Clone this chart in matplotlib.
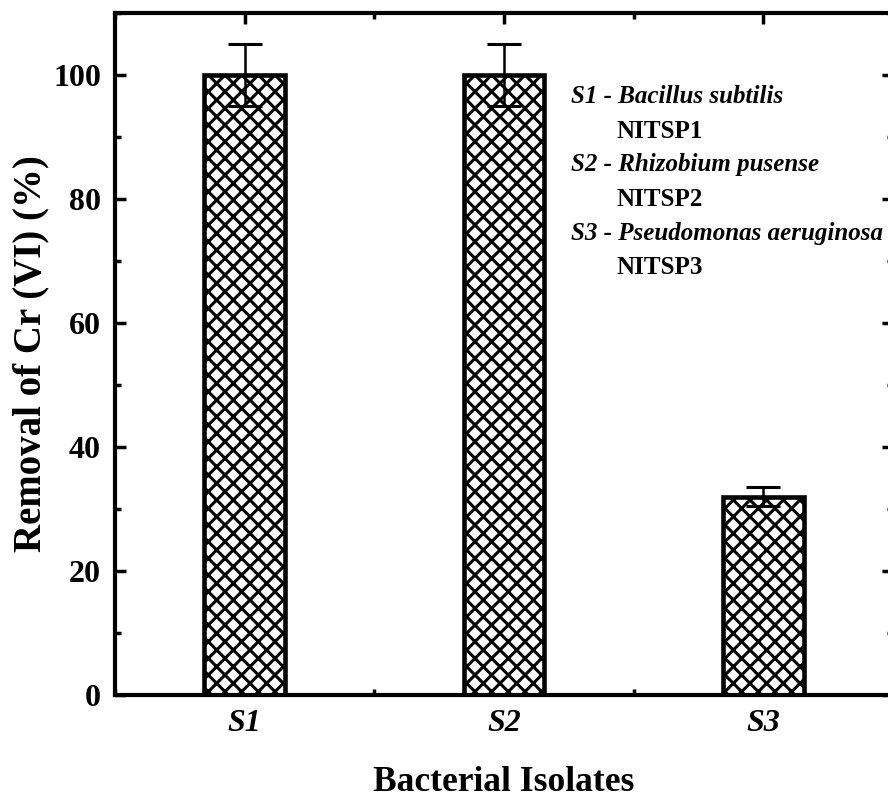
import numpy as np
import matplotlib
matplotlib.use("Agg")
import matplotlib.pyplot as plt
from matplotlib.ticker import MultipleLocator

plt.rcParams['font.family'] = ['Liberation Serif', 'DejaVu Serif']
plt.rcParams['hatch.linewidth'] = 2.2

# data:
# --------------------------
isolates = ['S1', 'S2', 'S3']
removal = [100.0, 100.0, 32.0]
removal_err = [5.0, 5.0, 1.5]
strain_names = ['Bacillus subtilis', 'Rhizobium pusense', 'Pseudomonas aeruginosa']
strain_codes = ['NITSP1', 'NITSP2', 'NITSP3']

fig = plt.figure(figsize=(8.88, 8.02), dpi=100)
ax = fig.add_axes([0.1295, 0.1334, 0.8761, 0.8504])

x = np.arange(1, len(isolates) + 1)
ax.bar(x, removal, width=0.31, color='white', edgecolor='black',
       linewidth=3.3, hatch='xx', zorder=2)
ax.errorbar(x, removal, yerr=removal_err, fmt='none', ecolor='black',
            elinewidth=1.8, capsize=12, capthick=2.2, zorder=3)

ax.set_xlim(0.5, 3.5)
ax.set_ylim(0, 110)
ax.set_xticks(x)
ax.set_xticklabels(isolates, fontsize=23, fontweight='bold', fontstyle='italic')
ax.xaxis.set_minor_locator(MultipleLocator(0.5))
ax.yaxis.set_major_locator(MultipleLocator(20))
ax.yaxis.set_minor_locator(MultipleLocator(10))
for lab in ax.get_yticklabels():
    lab.set_fontsize(23)
    lab.set_fontweight('bold')

ax.tick_params(which='both', direction='in', top=True, right=True)
ax.tick_params(which='major', length=8, width=2.5, pad=10)
ax.tick_params(which='minor', length=4, width=2.5)
for sp in ax.spines.values():
    sp.set_linewidth(3)

ax.set_ylabel('Removal of Cr (VI) (%)', fontsize=28, fontweight='bold', labelpad=3)
ax.set_xlabel('Bacterial Isolates', fontsize=25.5, fontweight='bold', labelpad=20)

# strain key in upper right:
for i in range(len(isolates)):
    y0 = 96.5 - 11.0 * i
    ax.text(2.258, y0, isolates[i] + ' - ' + strain_names[i], fontsize=18,
            fontweight='bold', fontstyle='italic', va='center', ha='left')
    ax.text(2.435, y0 - 5.6, strain_codes[i], fontsize=18,
            fontweight='bold', va='center', ha='left')

fig.savefig('out.png', dpi=100)
